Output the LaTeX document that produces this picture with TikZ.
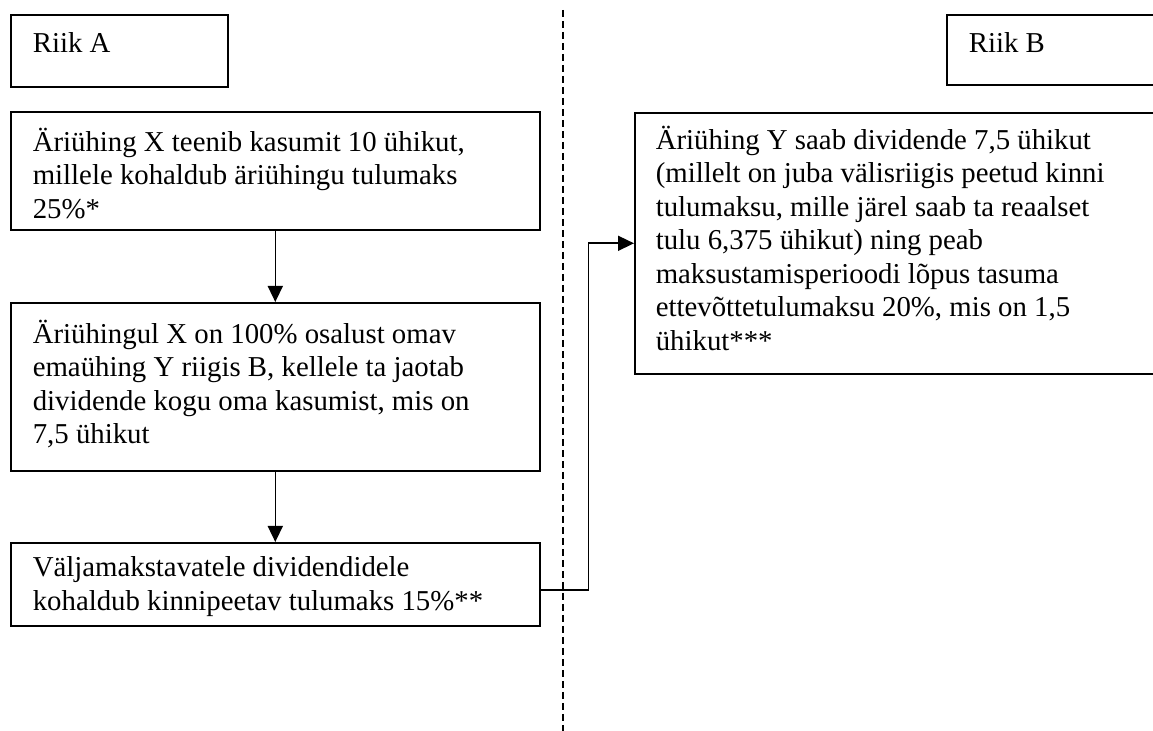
\documentclass[tikz,border=0pt]{standalone}
\usepackage{fontspec}
\setmainfont{Liberation Serif}
\usepackage{tikz}
\usetikzlibrary{arrows.meta}

\begin{document}
\begin{tikzpicture}[x=0.5pt, y=-0.5pt, line width=0.8pt,
    panel/.style={draw, anchor=north west, inner sep=0pt},
    txt/.style={anchor=north west, inner sep=0pt, align=left,
        font=\fontsize{14.4}{16.75}\selectfont, execute at begin node={\rule{0pt}{14pt}}},
    flow/.style={-{Triangle[length=8pt, width=7.5pt]}}]
        \clip (0, 0) rectangle (1153, 731);

        \node[panel, minimum width=108.5pt, minimum height=36pt] (riikA) at (10, 14) {};
        \node[panel, minimum width=107pt, minimum height=35pt] (riikB) at (946, 14) {};
        \node[txt] (riikAtxt) at (32, 24) {Riik A};
        \node[txt] (riikBtxt) at (968, 24) {Riik B};

        \node[panel, minimum width=264.5pt, minimum height=59pt] (kasum) at (10, 111) {};
        \node[panel, minimum width=264.5pt, minimum height=84pt] (emayhing) at (10, 302) {};
        \node[panel, minimum width=264.5pt, minimum height=41.5pt] (kinni) at (10, 542) {};
        \node[panel, minimum width=263pt, minimum height=130.5pt] (saab) at (634, 112) {};

        \node[txt] (kasumtxt) at (32, 127) {Äriühing X teenib kasumit 10 ühikut,\\millele kohaldub äriühingu tulumaks\\25\%*};
        \node[txt] (emayhingtxt) at (32, 319) {Äriühingul X on 100\% osalust omav\\emaühing Y riigis B, kellele ta jaotab\\dividende kogu oma kasumist, mis on\\7,5 ühikut};
        \node[txt] (kinnitxt) at (32, 556) {Väljamakstavatele dividendidele\\kohaldub kinnipeetav tulumaks 15\%**};
        \node[txt] (saabtxt) at (655, 125) {Äriühing Y saab dividende 7,5 ühikut\\(millelt on juba välisriigis peetud kinni\\tulumaksu, mille järel saab ta reaalset\\tulu 6,375 ühikut) ning peab\\maksustamisperioodi lõpus tasuma\\ettevõttetulumaksu 20\%, mis on 1,5\\ühikut***};

        \draw[dash pattern=on 3.5pt off 2pt] (563, 10) -- (563, 731);

        \draw[flow] (kasum) -- (emayhing);
        \draw[flow] (emayhing) -- (kinni);
        \draw[flow] ([yshift=-3pt]kinni.east) -- ++(48, 0) |- (saab.west);
    \end{tikzpicture}
\end{document}
